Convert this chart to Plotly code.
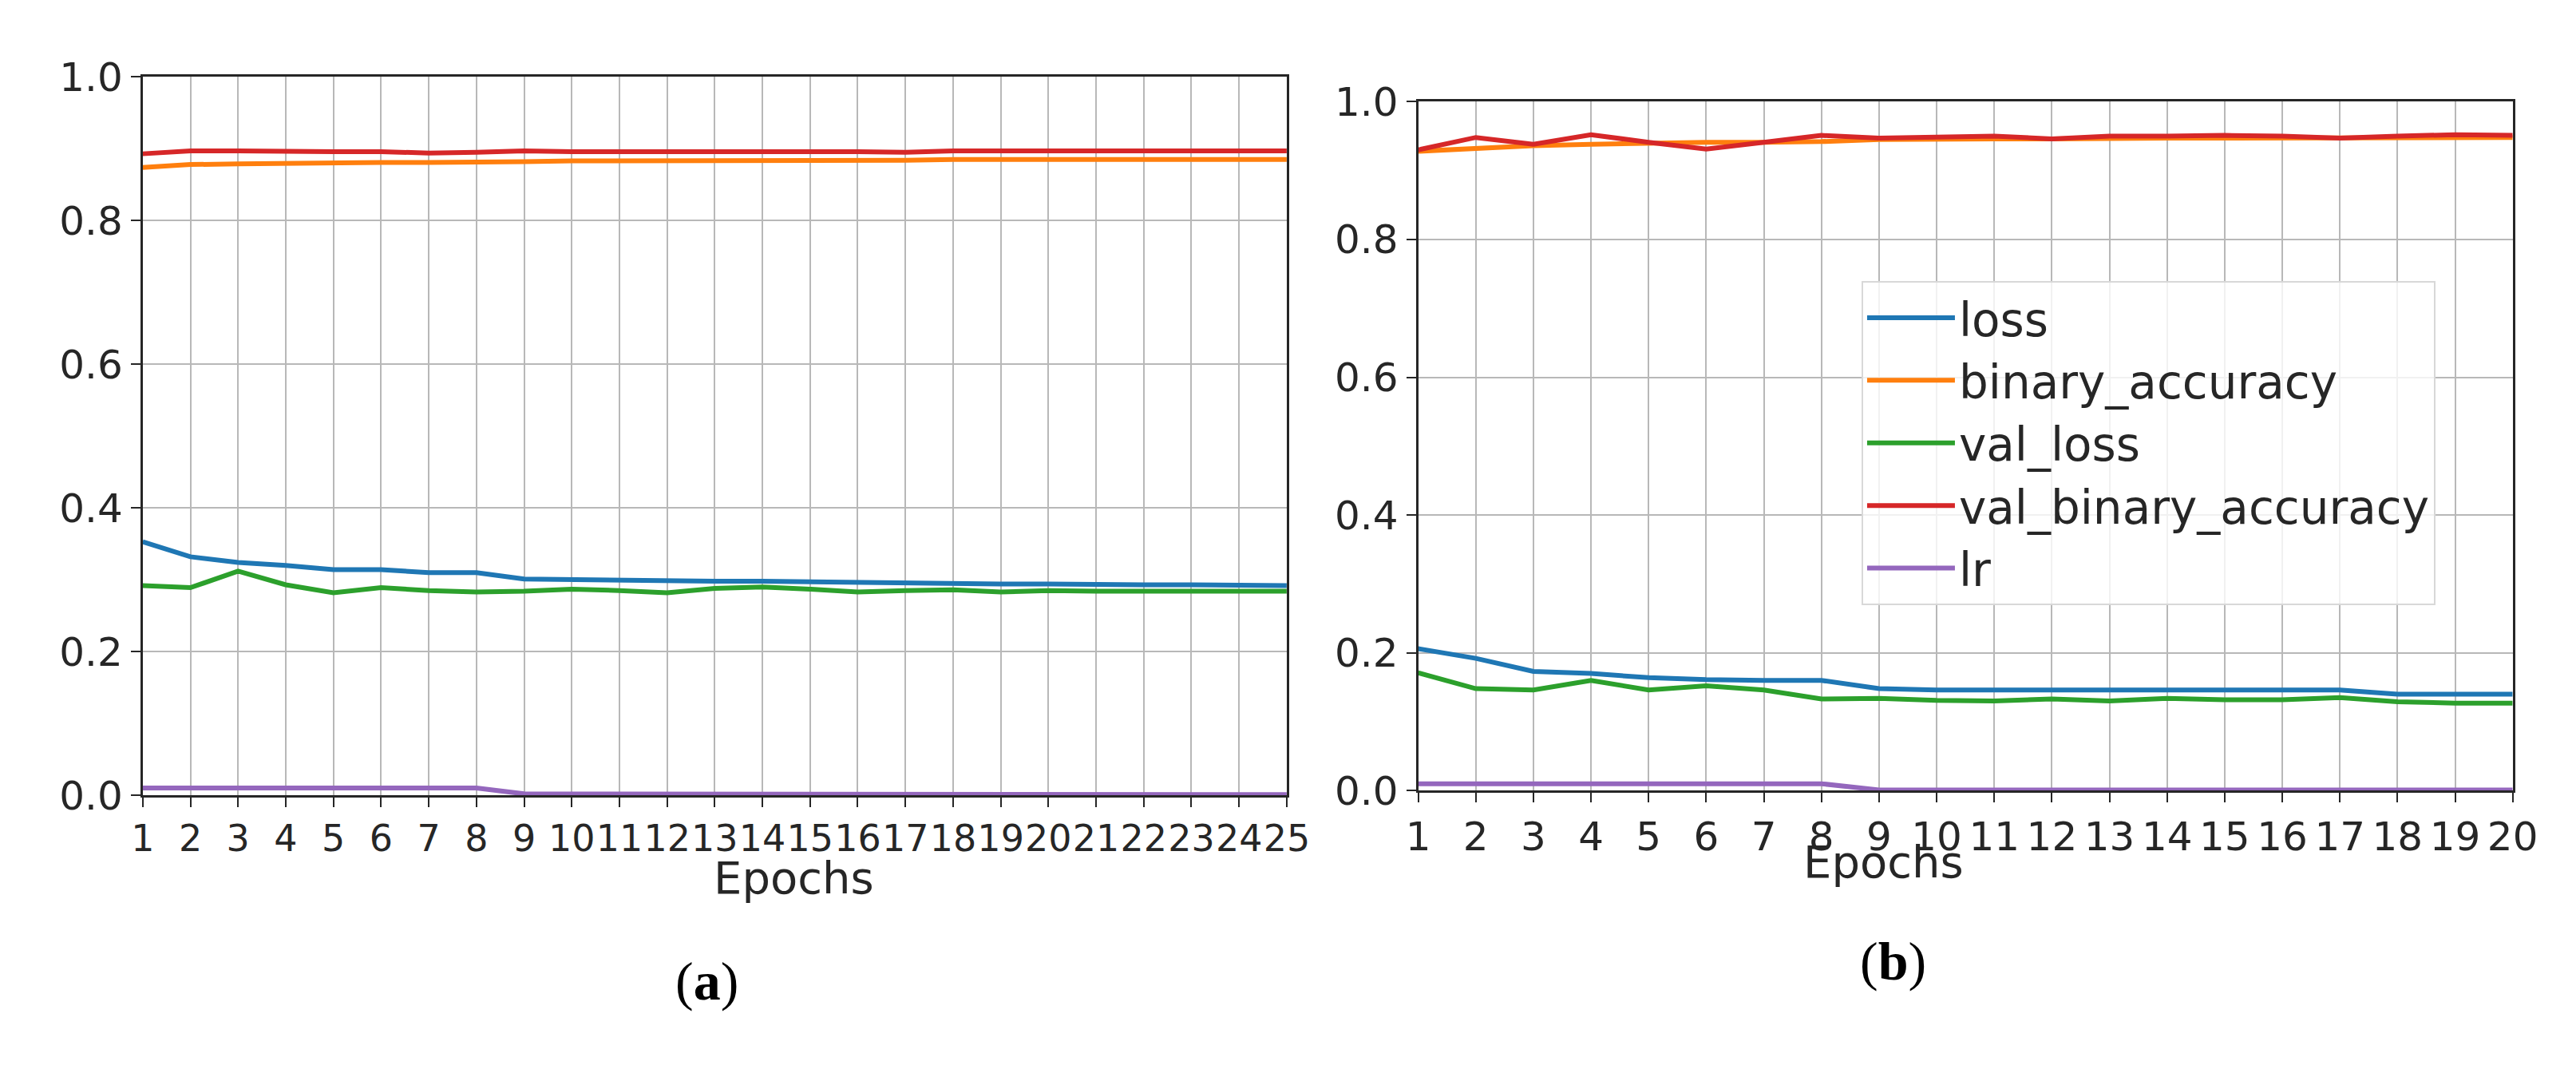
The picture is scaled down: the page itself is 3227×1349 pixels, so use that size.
import plotly.graph_objects as go

epochs_a = list(range(1, 26))
loss_a = [0.353, 0.332, 0.324, 0.320, 0.314, 0.314, 0.310, 0.310, 0.301, 0.300, 0.299, 0.299, 0.298, 0.298, 0.297, 0.296, 0.296, 0.295, 0.294, 0.294, 0.293, 0.293, 0.293, 0.292, 0.292]
bacc_a = [0.874, 0.878, 0.879, 0.880, 0.880, 0.881, 0.881, 0.881, 0.882, 0.883, 0.883, 0.883, 0.884, 0.884, 0.884, 0.884, 0.884, 0.885, 0.885, 0.885, 0.885, 0.885, 0.885, 0.885, 0.885]
vloss_a = [0.292, 0.289, 0.312, 0.293, 0.282, 0.289, 0.285, 0.283, 0.284, 0.287, 0.285, 0.282, 0.288, 0.290, 0.287, 0.283, 0.285, 0.286, 0.283, 0.285, 0.284, 0.284, 0.284, 0.284, 0.284]
vacc_a = [0.893, 0.897, 0.897, 0.896, 0.896, 0.896, 0.894, 0.895, 0.897, 0.896, 0.896, 0.897, 0.896, 0.897, 0.897, 0.896, 0.895, 0.897, 0.897, 0.897, 0.897, 0.897, 0.897, 0.897, 0.897]
lr_a = [0.01] * 8 + [0.002] * 9 + [0.001] * 8

epochs_b = list(range(1, 21))
loss_b = [0.206, 0.192, 0.173, 0.170, 0.164, 0.161, 0.160, 0.160, 0.148, 0.146, 0.146, 0.146, 0.146, 0.146, 0.146, 0.146, 0.146, 0.140, 0.140, 0.140]
bacc_b = [0.928, 0.932, 0.936, 0.938, 0.940, 0.941, 0.941, 0.942, 0.945, 0.946, 0.946, 0.946, 0.947, 0.947, 0.947, 0.947, 0.947, 0.948, 0.948, 0.948]
vloss_b = [0.171, 0.148, 0.146, 0.160, 0.146, 0.152, 0.146, 0.133, 0.134, 0.131, 0.130, 0.133, 0.130, 0.134, 0.132, 0.132, 0.135, 0.129, 0.127, 0.127]
vacc_b = [0.930, 0.948, 0.938, 0.952, 0.941, 0.931, 0.941, 0.951, 0.947, 0.949, 0.950, 0.946, 0.950, 0.950, 0.951, 0.950, 0.947, 0.950, 0.952, 0.951]
lr_b = [0.01] * 8 + [0.001] * 12

names = ["loss", "binary_accuracy", "val_loss", "val_binary_accuracy", "lr"]
colors = ["#1f77b4", "#ff7f0e", "#2ca02c", "#d62728", "#9467bd"]

fig = go.Figure()
for i, ys in enumerate([loss_a, bacc_a, vloss_a, vacc_a, lr_a]):
    fig.add_trace(go.Scatter(x=epochs_a, y=ys, mode="lines", name=names[i], showlegend=False,
                             line=dict(color=colors[i], width=6), xaxis="x", yaxis="y"))
for i, ys in enumerate([loss_b, bacc_b, vloss_b, vacc_b, lr_b]):
    fig.add_trace(go.Scatter(x=epochs_b, y=ys, mode="lines", name=names[i],
                             line=dict(color=colors[i], width=6), xaxis="x2", yaxis="y2"))

tickfont = dict(family="DejaVu Sans", size=50, color="#262626")
common_x = dict(showgrid=True, gridcolor="#b8b8b8", gridwidth=2, showline=True, linecolor="#262626",
                linewidth=3, mirror=True, ticks="outside", ticklen=12, tickwidth=2, tickcolor="#262626",
                tickfont=tickfont, dtick=1, zeroline=False, tickangle=0)
common_y = dict(showgrid=True, gridcolor="#b8b8b8", gridwidth=2, showline=True, linecolor="#262626",
                linewidth=3, mirror=True, ticks="outside", ticklen=12, tickwidth=2, tickcolor="#262626",
                tickfont=tickfont, range=[0, 1], dtick=0.2, tickformat=".1f", zeroline=False)

fig.update_layout(
    width=3227, height=1349, margin=dict(l=0, r=0, t=0, b=0),
    paper_bgcolor="white", plot_bgcolor="white",
    xaxis=dict(common_x, domain=[0.0487, 0.4995], range=[1, 25],
               tickfont=dict(family="DejaVu Sans", size=46, color="#262626")),
    yaxis=dict(common_y, domain=[0.2565, 0.954]),
    xaxis2=dict(common_x, domain=[0.5513, 0.9826], range=[1, 20], anchor="y2"),
    yaxis2=dict(common_y, domain=[0.261, 0.930], anchor="x2"),
    legend=dict(x=0.726, y=0.756, xanchor="left", yanchor="top", bgcolor="rgba(255,255,255,0.8)",
                bordercolor="#d8d8d8", borderwidth=2, itemwidth=110, tracegroupgap=0,
                font=dict(family="DejaVu Sans", size=58, color="#262626")),
    annotations=[
        dict(text="Epochs", x=0.273, y=0.150, xref="paper", yref="paper", showarrow=False,
             font=dict(family="DejaVu Sans", size=56, color="#262626")),
        dict(text="Epochs", x=0.767, y=0.165, xref="paper", yref="paper", showarrow=False,
             font=dict(family="DejaVu Sans", size=56, color="#262626")),
        dict(text="(<b>a</b>)", x=0.258, y=0.045, xref="paper", yref="paper", showarrow=False,
             font=dict(family="Liberation Serif", size=68, color="black")),
        dict(text="(<b>b</b>)", x=0.752, y=0.064, xref="paper", yref="paper", showarrow=False,
             font=dict(family="Liberation Serif", size=68, color="black")),
    ],
)

fig.write_html("out.html")
